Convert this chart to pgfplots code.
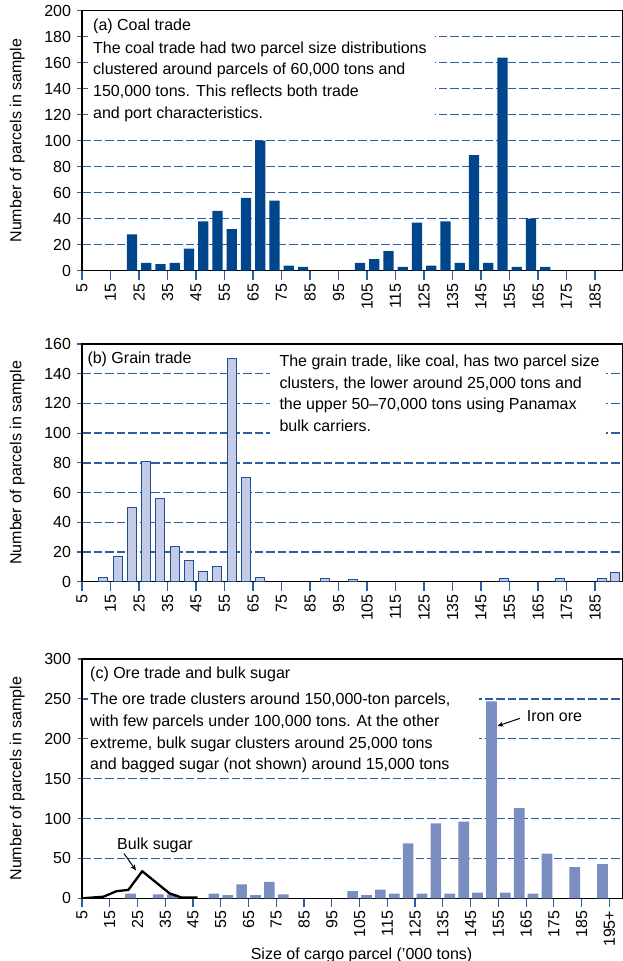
\documentclass[border=0pt]{standalone}
\usepackage{fontspec}
\setmainfont{Liberation Sans}
\usepackage{pgfplots}
\pgfplotsset{compat=1.18}
\usetikzlibrary{arrows.meta}
\definecolor{coalblue}{HTML}{00468C}
\definecolor{grainfill}{HTML}{C3CBE6}
\definecolor{grainedge}{HTML}{1F4E94}
\definecolor{oreblue}{HTML}{7B8EC2}
\definecolor{gridblue}{HTML}{2A5FA3}
\definecolor{framegray}{HTML}{4D4D4D}
\newcommand{\fs}{\fontsize{16}{19}\selectfont}

\pgfplotsset{
  panel/.style={
    scale only axis, width=540.7pt,
    xmin=5, ymin=0,
    axis line style={draw=framegray, line width=1.2pt},
    every outer y axis line/.append style={draw=black},
    tick pos=left,
    xtick align=outside, ytick align=center,
    major tick length=9pt,
    tick style={draw=gridblue, line width=1.2pt},
    ymajorgrids,
    major grid style={gridblue, line width=1.3pt, dash pattern=on 8.5pt off 3pt},
    /pgf/number format/assume math mode=true,
    tick label style={font=\fs},
    yticklabel style={xshift=-3pt},
    xticklabel style={rotate=90, anchor=east},
    label style={font=\fs},
    ylabel={Number of parcels in sample},
    ylabel style={at={(axis description cs:-0.12,0.5)}, anchor=center},
  }
}

\begin{document}
\begin{tikzpicture}
\useasboundingbox (0,0) rectangle (623pt,-961pt);

% (a) coal
\begin{axis}[panel, at={(82pt,-270.7pt)}, anchor=south west, height=260pt,
  xmax=194.7, ymax=200, ytick={0,20,...,200}, xtick={5,15,...,185}]
\addplot[ybar, bar width=3.6, fill=coalblue, draw=none] coordinates {
  (22.5,28)(27.5,6)(32.5,5)(37.5,6)(42.5,17)(47.5,38)(52.5,46)(57.5,32)
  (62.5,56)(67.5,100)(72.5,54)(77.5,4)(82.5,3)
  (102.5,6)(107.5,9)(112.5,15)(117.5,3)(122.5,37)(127.5,4)(132.5,38)
  (137.5,6)(142.5,89)(147.5,6)(152.5,164)(157.5,3)(162.5,40)(167.5,3)
};
\end{axis}

% (b) grain
\begin{axis}[panel, at={(82pt,-581.7pt)}, anchor=south west, height=237.7pt,
  xmax=194.7, ymax=160, ytick={0,20,...,160}, xtick={5,15,...,185}]
\addplot[ybar, bar width=3.1, fill=grainfill, draw=grainedge, line width=1pt] coordinates {
  (12.5,2.5)(17.5,17)(22.5,50)(27.5,81)(32.5,56)(37.5,24)(42.5,14)(47.5,7)
  (52.5,10.5)(57.5,150)(62.5,70)(67.5,3)
  (90.3,2)(100.2,1.8)(153,2)(172.7,2)(187.3,2)(192,6.5)
};
\end{axis}

% (c) ore and bulk sugar
\begin{axis}[panel, at={(82pt,-898.3pt)}, anchor=south west, height=239.3pt,
  xmax=199.8, ymax=300, ytick={0,50,...,300}, xtick={5,15,...,195},
  xticklabels={5,15,25,35,45,55,65,75,85,95,105,115,125,135,145,155,165,175,185,195+},
  xlabel={Size of cargo parcel (’000 tons)},
  xlabel style={at={(axis description cs:0.517,-0.237)}, anchor=center}]
\addplot[ybar, bar width=3.85, fill=oreblue, draw=none] coordinates {
  (22.5,6)(32.5,5)(37.5,5)(52.5,6)(57.5,4)(62.5,17.5)(67.5,4)(72.5,20.5)(77.5,5)
  (102.5,9)(107.5,4)(112.5,11)(117.5,6)(122.5,69)(127.5,6)(132.5,94)(137.5,6)
  (142.5,96)(147.5,7)(152.5,247)(157.5,7)(162.5,113)(167.5,6)(172.5,56)
  (182.5,39)(192.5,43)
};
\addplot[black, line width=2.3pt, sharp plot, line join=round] coordinates {
  (5,0)(12.7,2)(17.5,9)(21.7,10.5)(26.7,34)(36.6,6)(40.9,1)(46.7,1)
};
\end{axis}

\begin{scope}[x=1pt, y=-1pt, every node/.style={font=\fs, inner sep=0pt}]
  % white boxes behind the notes
  \fill[white] (88,12) rectangle (434.5,128);
  \fill[white] (270,345) rectangle (606,440);
  \fill[white] (88,660) rectangle (479,772);

  \node[anchor=base west] at (93,30.5) {(a) Coal trade};
  \node[anchor=base west] at (93,53.2) {The coal trade had two parcel size distributions};
  \node[anchor=base west] at (93,74.8) {clustered around parcels of 60,000 tons and};
  \node[anchor=base west] at (93,96.4) {150,000 tons. This reflects both trade};
  \node[anchor=base west] at (93,118) {and port characteristics.};

  \node[anchor=base west] at (87.3,363.8) {(b) Grain trade};
  \node[anchor=base west] at (279.3,366.5) {The grain trade, like coal, has two parcel size};
  \node[anchor=base west] at (279.3,388.1) {clusters, the lower around 25,000 tons and};
  \node[anchor=base west] at (279.3,409.7) {the upper 50–70,000 tons using Panamax};
  \node[anchor=base west] at (279.3,431.3) {bulk carriers.};

  \node[anchor=base west] at (90,678.2) {(c) Ore trade and bulk sugar};
  \node[anchor=base west] at (90,704.8) {The ore trade clusters around 150,000-ton parcels,};
  \node[anchor=base west] at (90,726.4) {with few parcels under 100,000 tons. At the other};
  \node[anchor=base west] at (90,748) {extreme, bulk sugar clusters around 25,000 tons};
  \node[anchor=base west] at (90,769.6) {and bagged sugar (not shown) around 15,000 tons};

  \node[anchor=base] at (155,849.3) {Bulk sugar};
  \draw[-{Stealth[length=6pt,width=5pt]}, line width=1pt] (124,853.5) -- (136,870.5);
  \node[anchor=base west] at (526.7,721.7) {Iron ore};
  \draw[-{Stealth[length=6pt,width=5pt]}, line width=1pt] (520,718.3) -- (497.5,726);
\end{scope}
\end{tikzpicture}
\end{document}
